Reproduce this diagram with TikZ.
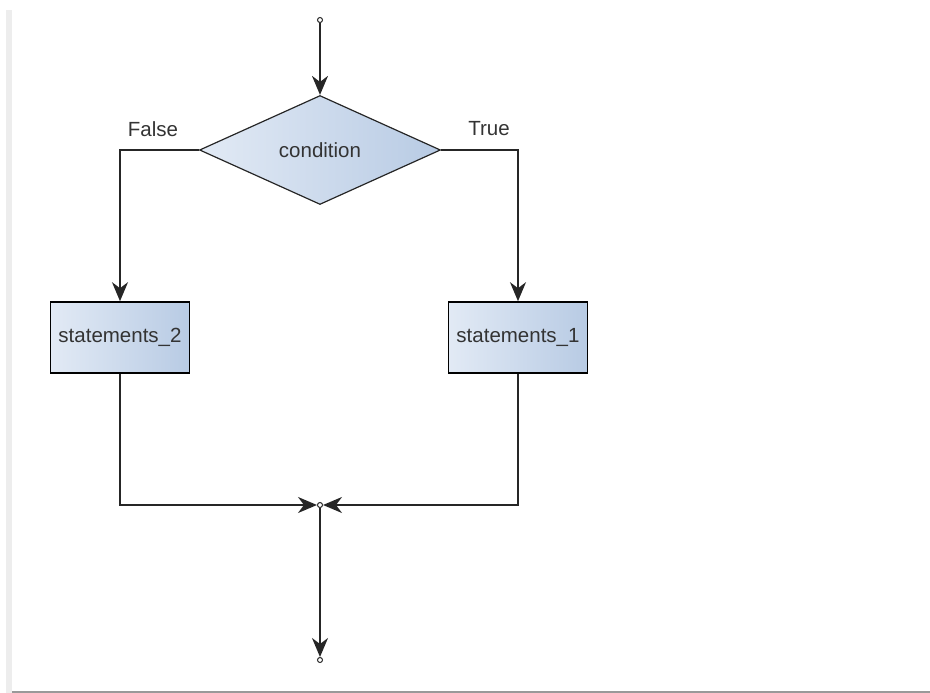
\documentclass[tikz,border=0pt]{standalone}
\usepackage{fontspec}
\setmainfont{Liberation Sans}
\usetikzlibrary{arrows.meta, shapes.geometric}

\definecolor{boxleft}{HTML}{E2EAF5}
\definecolor{boxright}{HTML}{B8CBE4}
\definecolor{linegray}{HTML}{262626}
\definecolor{textgray}{HTML}{333333}

\tikzset{
  flow/.style={draw=linegray, line width=1.6pt, -{Stealth[length=19pt, width=16pt, inset=6pt]}},
  link/.style={draw=linegray, line width=1.6pt},
  stmt/.style={draw=black, line width=1.6pt, left color=boxleft, right color=boxright,
    minimum width=139pt, minimum height=71pt, inner sep=0pt, text=textgray},
  test/.style={diamond, draw=linegray, line width=1.2pt, left color=boxleft, right color=boxright,
    minimum width=241pt, minimum height=109pt, inner sep=0pt, text=textgray},
  dot/.style={circle, draw=linegray, fill=white, line width=1pt, minimum size=5pt, inner sep=0pt},
  tag/.style={text=textgray, inner sep=0pt}
}

\begin{document}
\begin{tikzpicture}[x=1pt, y=-1pt, font=\fontsize{20.5}{24}\selectfont]
  \useasboundingbox (0, 0) rectangle (930, 693);
  \fill[black!7] (6, 10) rectangle (12, 693);
  \draw[black!40, line width=2pt] (12, 692) -- (930, 692);

  \pgfmathsetmacro{\mid}{320};
  \pgfmathsetmacro{\lft}{120};
  \pgfmathsetmacro{\rgt}{518};

  \node[dot] (start) at (\mid, 20) {};
  \node[test] (cond) at (\mid, 150) {condition};
  \node[stmt] (s2) at (\lft, 337.5) {statements\_2};
  \node[stmt] (s1) at (\rgt, 337.5) {statements\_1};
  \node[dot] (join) at (\mid, 505) {};
  \node[dot] (stop) at (\mid, 660) {};

  \node[tag] (false) at (153, 129) {False};
  \node[tag] (true) at (489, 129) {True};

  \draw[flow] (start) -- (cond.north);
  \draw[flow] (cond.west) -| (s2.north);
  \draw[flow] (cond.east) -| (s1.north);

  \draw[flow] (s2.south) |- (join.west);
  \draw[flow] (s1.south) |- (join.east);
  \draw[flow] (join) -- (stop);
\end{tikzpicture}
\end{document}
